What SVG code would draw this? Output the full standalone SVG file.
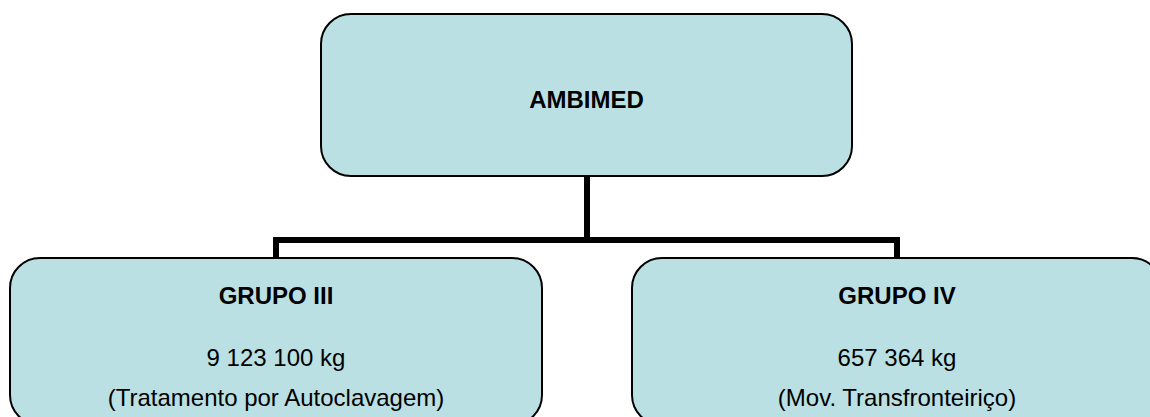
<svg xmlns="http://www.w3.org/2000/svg" width="1150" height="417" viewBox="0 0 1150 417">
<style>
.box{fill:#bbe0e3;stroke:#000;stroke-width:2}
.t{font-family:"Liberation Sans",Arial,sans-serif;font-size:24px;fill:#000;text-anchor:middle}
.b{font-weight:bold}
.c{fill:none;stroke:#000;stroke-width:6;stroke-linejoin:miter}
</style>
<rect width="1150" height="417" fill="#fff"/>
<g id="connectors">
<path class="c" d="M587 176 V240 M276 258 V240 H897 V258"/>
</g>
<g id="ambimed">
<rect class="box" x="321" y="14" width="531" height="162" rx="30" ry="30"/>
<text class="t b" x="586.5" y="108">AMBIMED</text>
</g>
<g id="grupo3">
<rect class="box" x="10" y="258" width="532" height="167" rx="30" ry="30"/>
<text class="t b" x="276" y="304">GRUPO III</text>
<text class="t" x="276" y="366">9 123 100 kg</text>
<text class="t" x="276" y="406">(Tratamento por Autoclavagem)</text>
</g>
<g id="grupo4">
<rect class="box" x="632" y="258" width="530" height="167" rx="30" ry="30"/>
<text class="t b" x="897" y="304">GRUPO IV</text>
<text class="t" x="897" y="366">657 364 kg</text>
<text class="t" x="897" y="406">(Mov. Transfronteiriço)</text>
</g>
</svg>
